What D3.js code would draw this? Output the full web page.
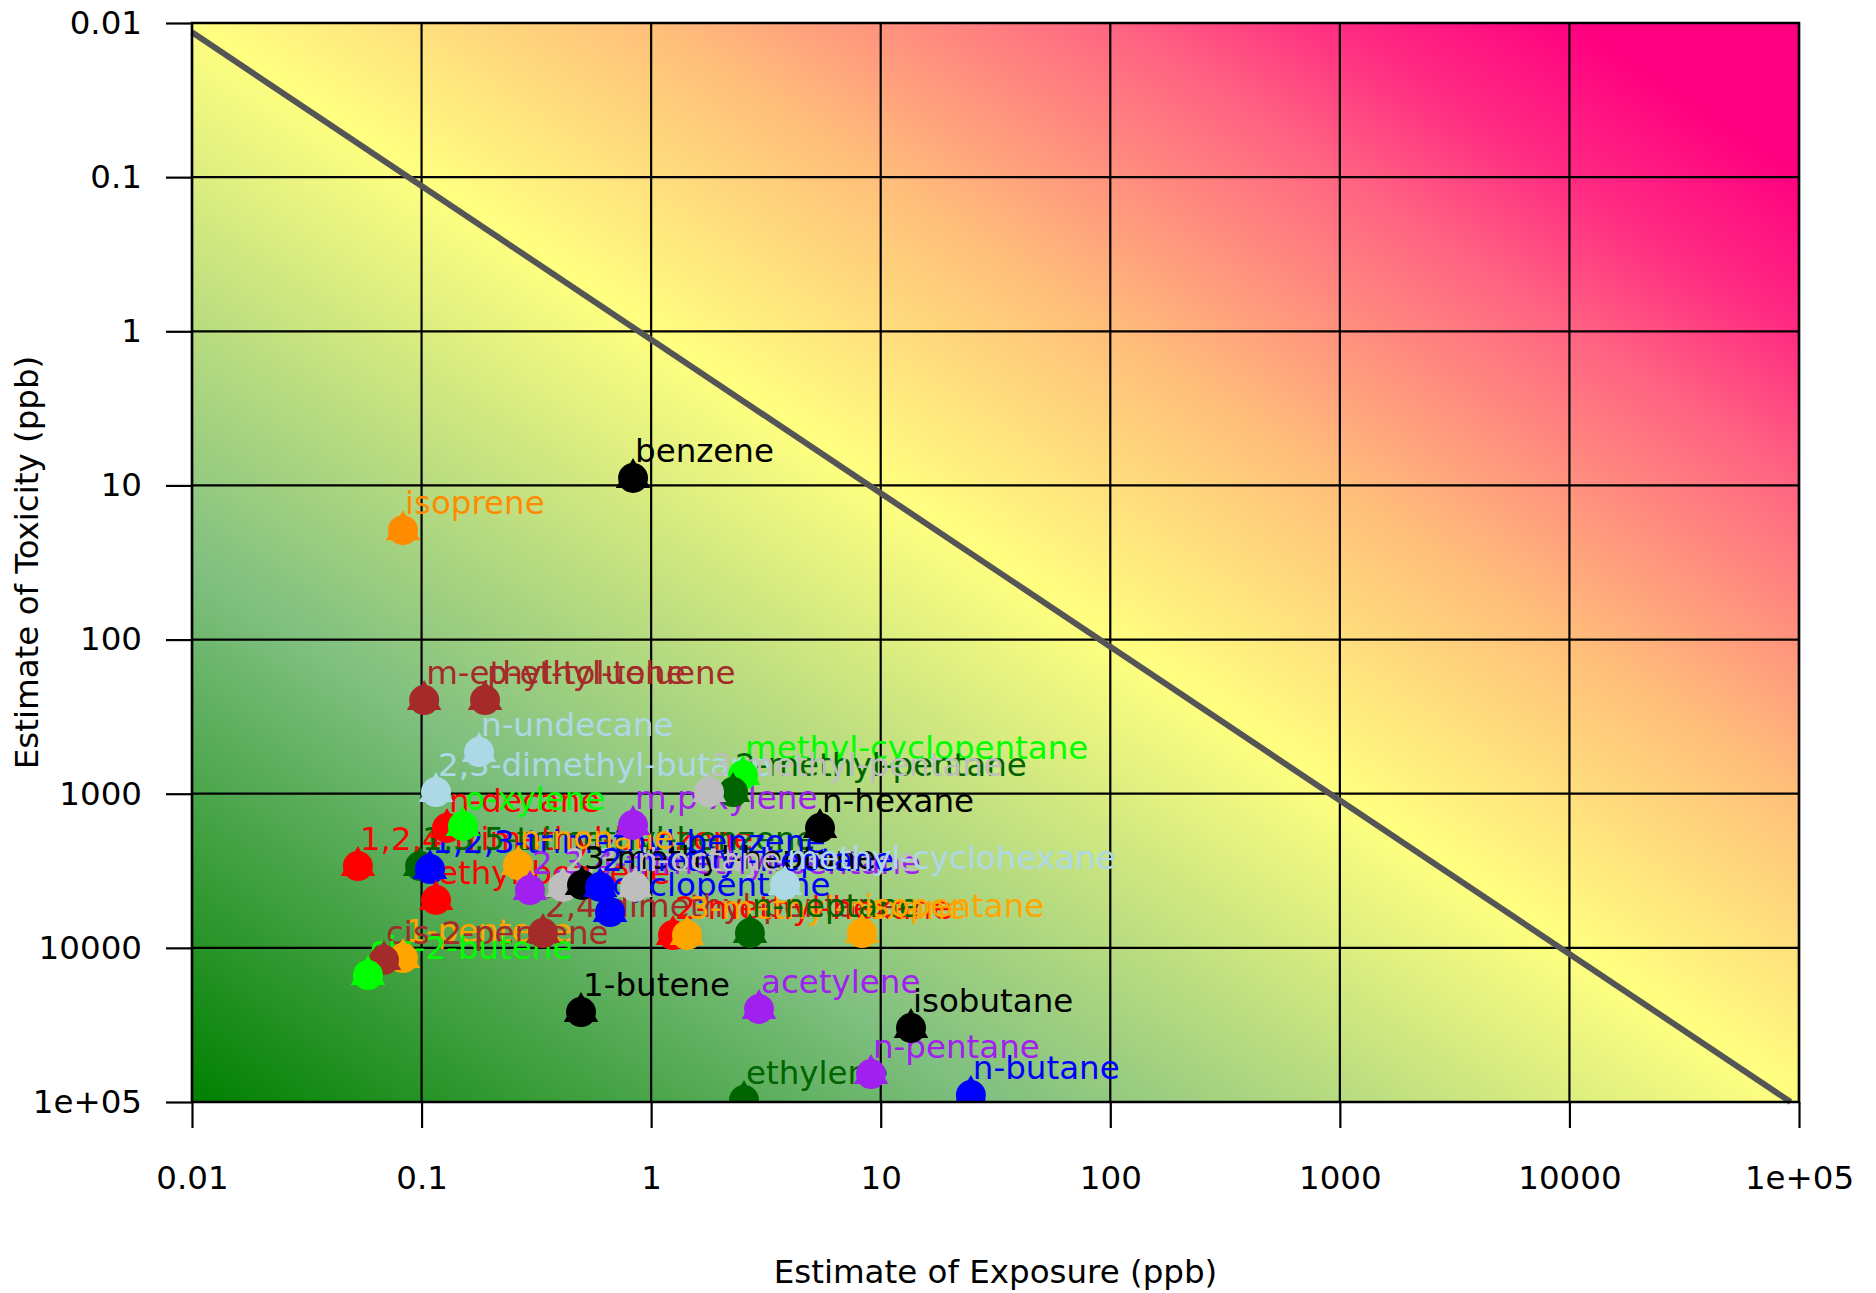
<!DOCTYPE html>
<html><head><meta charset="utf-8">
<script src="https://cdn.jsdelivr.net/npm/d3@7"></script>
<style>body{margin:0;background:#fff} text{font-family:"DejaVu Sans",sans-serif}</style>
</head><body><svg id="c" width="1876" height="1293"></svg>
<script>
const names = ["benzene","isoprene","m-ethyl-toluene","p-ethyl-toluene","n-undecane","2,3-dimethyl-butane",
 "methyl-cyclopentane","2-methyl-pentane","3-methyl-pentane","m,p-xylene","n-hexane","n-decane","o-xylene",
 "1,2,4-trimethyl-benzene","1,3,5-trimethyl-benzene","1,2,3-trimethyl-benzene","ethyl-benzene","n-nonane",
 "2,3,4-trimethyl-pentane","2,3-dimethyl-pentane","3-methyl-heptane","2-methyl-heptane","n-octane",
 "methyl-cyclohexane","cyclopentane","2,4-dimethyl-pentane","2-methyl-hexane","3-methyl-hexane","n-heptane",
 "isopentane","1-pentene","cis-2-pentene","cis-2-butene","1-butene","acetylene","isobutane","n-pentane",
 "n-butane","ethylene"];
const exposure = [0.834,0.083,0.1026,0.189,0.178,0.1156,
 2.513,2.273,1.787,0.834,5.44,0.129,0.1515,
 0.0528,0.0985,0.1088,0.1156,0.263,
 0.2966,0.4133,0.5,0.599,0.851,
 3.83,0.662,0.338,1.245,1.433,2.695,
 8.29,0.083,0.0686,0.0584,0.4949,2.95,13.55,9.07,
 24.7,2.538];
const toxicity = [8.95,19.5,247,247,537,975,
 756,975,975,1596,1669,1669,1620,
 2945,2945,3080,4893,2900,
 4215,4030,3911,4030,4030,
 3911,5855,8012,8255,8255,8012,
 8012,11640,11990,15010,26080,24930,33110,65850,
 90100,97100];
const colors = ["#000000","#ff8c00","#a52a2a","#a52a2a","#add8e6","#add8e6",
 "#00ff00","#006400","#bebebe","#a020f0","#000000","#ff0000","#00ff00",
 "#ff0000","#006400","#0000ff","#ff0000","#ffa500",
 "#a020f0","#bebebe","#000000","#0000ff","#bebebe",
 "#add8e6","#0000ff","#a52a2a","#ff0000","#ffa500","#006400",
 "#ffa500","#ffa500","#a52a2a","#00ff00","#000000","#a020f0","#000000","#a020f0",
 "#0000ff","#006400"];
const tickValues = [0.01,0.1,1,10,100,1000,10000,100000];
const tickLabels = ["0.01","0.1","1","10","100","1000","10000","1e+05"];
const refLineX = [0.01, 92000];
const refLineY = [0.0115, 100000];

const svg = d3.select("#c");
const L=192,R=1799,T=23,B=1102;
const x = d3.scaleLog().domain([0.01,1e5]).range([L,R]);
const y = d3.scaleLog().domain([0.01,1e5]).range([T,B]);
const FS = 32.5;

const defs = svg.append("defs");
const grad = defs.append("linearGradient").attr("id","bg")
  .attr("x1",0).attr("y1",1).attr("x2",1).attr("y2",0);
[[0,"#008000"],[0.25,"#80c080"],[0.5,"#ffff80"],[0.643,"#ffbe7a"],[0.786,"#ff6482"],[0.857,"#ff2a82"],[0.93,"#ff0080"],[1,"#ff0080"]]
  .forEach(s=>grad.append("stop").attr("offset",s[0]).attr("stop-color",s[1]));
defs.append("clipPath").attr("id","clip").append("rect")
  .attr("x",L).attr("y",T).attr("width",R-L).attr("height",B-T);

svg.append("rect").attr("x",L).attr("y",T).attr("width",R-L).attr("height",B-T).attr("fill","url(#bg)");

const grid = svg.append("g").attr("stroke","#000").attr("stroke-width",2.2);
tickValues.forEach(v=>{
  grid.append("line").attr("x1",x(v)).attr("x2",x(v)).attr("y1",T).attr("y2",B);
  grid.append("line").attr("y1",y(v)).attr("y2",y(v)).attr("x1",L).attr("x2",R);
});

const fmt = v => tickLabels[tickValues.indexOf(v)];
const xAxis = svg.append("g").attr("transform",`translate(0,${B})`)
  .call(d3.axisBottom(x).tickValues(tickValues).tickFormat(fmt).tickSize(26).tickPadding(38));
const yAxis = svg.append("g").attr("transform",`translate(${L},0)`)
  .call(d3.axisLeft(y).tickValues(tickValues).tickFormat(fmt).tickSize(26).tickPadding(24));
[xAxis,yAxis].forEach(a=>{
  a.select(".domain").remove();
  a.selectAll("line").attr("stroke","#000").attr("stroke-width",2.2);
  a.selectAll("text").attr("font-size",FS).attr("font-family","DejaVu Sans").attr("fill","#000");
});
xAxis.selectAll("text").attr("dy","0.71em");

svg.append("line").attr("x1",x(refLineX[0])).attr("y1",y(refLineY[0]))
  .attr("x2",x(refLineX[1])).attr("y2",y(refLineY[1]))
  .attr("stroke","#555").attr("stroke-width",6);

const data = names.map((n,i)=>({n,x:exposure[i],y:toxicity[i],c:colors[i]}));
const plot = svg.append("g").attr("clip-path","url(#clip)");
plot.append("g").selectAll("text").data(data).join("text")
  .attr("x",d=>x(d.x)+2).attr("y",d=>y(d.y)-16)
  .attr("font-size",FS).attr("fill",d=>d.c).text(d=>d.n);
const tri = "M0,-20L17.3,10L-17.3,10Z";
const mk = plot.append("g").selectAll("g").data(data).join("g")
  .attr("transform",d=>`translate(${x(d.x)},${y(d.y)})`).attr("fill",d=>d.c);
mk.append("path").attr("d",tri);
mk.append("circle").attr("r",15);

svg.append("rect").attr("x",L).attr("y",T).attr("width",R-L).attr("height",B-T)
  .attr("fill","none").attr("stroke","#000").attr("stroke-width",2.5);

svg.append("text").attr("x",(L+R)/2).attr("y",1283).attr("text-anchor","middle")
  .attr("font-size",FS).text("Estimate of Exposure (ppb)");
svg.append("text").attr("transform",`translate(38,${(T+B)/2}) rotate(-90)`).attr("text-anchor","middle")
  .attr("font-size",FS).text("Estimate of Toxicity (ppb)");
</script></body></html>
